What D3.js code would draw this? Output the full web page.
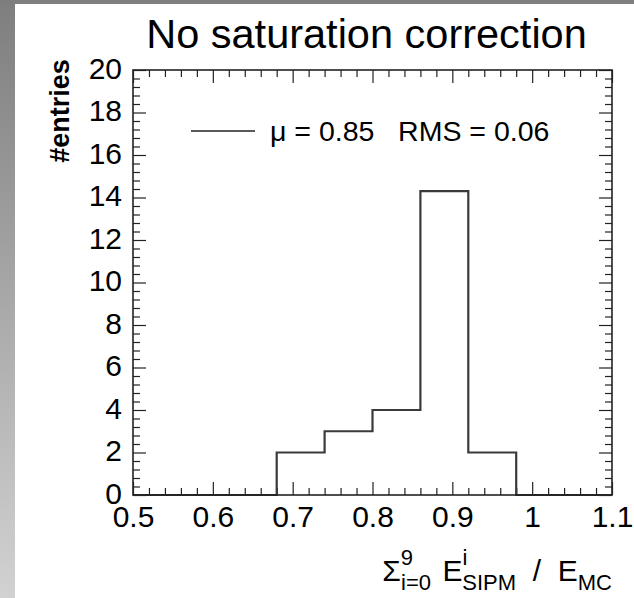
<!DOCTYPE html>
<html><head><meta charset="utf-8">
<script src="https://cdn.jsdelivr.net/npm/d3@7"></script>
<style>html,body{margin:0;padding:0;background:#fff;}svg{display:block;font-family:"Liberation Sans",Arial,sans-serif;}</style>
</head><body>
<script>
// Data
const binEdges = [0.5,0.56,0.62,0.68,0.74,0.80,0.86,0.92,0.98,1.04,1.1];
const counts = [0,0,0,2,3,4,14.3,2,0,0];
const xMajorTicks = [0.5,0.6,0.7,0.8,0.9,1.0,1.1];
const xTickLabels = ["0.5","0.6","0.7","0.8","0.9","1","1.1"];
const yMajorTicks = [0,2,4,6,8,10,12,14,16,18,20];
const titleText = "No saturation correction";
const legendText = "\u03BC = 0.85   RMS = 0.06";

const W = 634, H = 598;
const svg = d3.select("body").append("svg").attr("width", W).attr("height", H);

// background strips
const defs = svg.append("defs");
const grad = defs.append("linearGradient").attr("id","lg").attr("x1",0).attr("y1",0).attr("x2",0).attr("y2",1);
grad.append("stop").attr("offset","0%").attr("stop-color","#7e7e7e");
grad.append("stop").attr("offset","100%").attr("stop-color","#d2d2d2");
svg.append("rect").attr("x",0).attr("y",0).attr("width",W).attr("height",H).attr("fill","#fff");
svg.append("rect").attr("x",0).attr("y",0).attr("width",15).attr("height",H).attr("fill","url(#lg)");
svg.append("rect").attr("x",0).attr("y",0).attr("width",W).attr("height",4).attr("fill","#7e7e7e");

const x = d3.scaleLinear().domain([0.5,1.1]).range([133,612]);
const y = d3.scaleLinear().domain([0,20]).range([495,70]);

const xMinor = d3.range(0,31).map(i => 0.5 + i*0.02).filter(v => Math.abs(Math.round(v*10)-v*10) > 1e-6);
const yMinor = d3.range(0,51).map(i => i*0.4).filter(v => Math.abs(v/2 - Math.round(v/2)) > 1e-6);

const axStyle = g => { g.select(".domain").remove(); g.selectAll("line").attr("stroke","#222").attr("stroke-width",1.2); };

// bottom
svg.append("g").attr("transform",`translate(0,${y(0)})`)
  .call(d3.axisBottom(x).tickValues(xMajorTicks).tickSize(-13).tickPadding(11).tickFormat((d,i)=>xTickLabels[i]))
  .call(axStyle)
  .call(g=>g.selectAll("text").attr("font-size",30).attr("fill","#000").attr("font-family","Liberation Sans, Arial, sans-serif"));
svg.append("g").attr("transform",`translate(0,${y(0)})`)
  .call(d3.axisBottom(x).tickValues(xMinor).tickSize(-7).tickFormat(""))
  .call(axStyle);
// top
svg.append("g").attr("transform",`translate(0,${y(20)})`)
  .call(d3.axisTop(x).tickValues(xMajorTicks).tickSize(-13).tickFormat(""))
  .call(axStyle);
svg.append("g").attr("transform",`translate(0,${y(20)})`)
  .call(d3.axisTop(x).tickValues(xMinor).tickSize(-7).tickFormat(""))
  .call(axStyle);
// left
svg.append("g").attr("transform",`translate(${x(0.5)},0)`)
  .call(d3.axisLeft(y).tickValues(yMajorTicks).tickSize(-13).tickPadding(11))
  .call(axStyle)
  .call(g=>g.selectAll("text").attr("font-size",30).attr("fill","#000").attr("dy","0.28em").attr("font-family","Liberation Sans, Arial, sans-serif"));
svg.append("g").attr("transform",`translate(${x(0.5)},0)`)
  .call(d3.axisLeft(y).tickValues(yMinor).tickSize(-7).tickFormat(""))
  .call(axStyle);
// right
svg.append("g").attr("transform",`translate(${x(1.1)},0)`)
  .call(d3.axisRight(y).tickValues(yMajorTicks).tickSize(-13).tickFormat(""))
  .call(axStyle);
svg.append("g").attr("transform",`translate(${x(1.1)},0)`)
  .call(d3.axisRight(y).tickValues(yMinor).tickSize(-7).tickFormat(""))
  .call(axStyle);

// histogram
const pts = counts.map((c,i)=>[binEdges[i],c]).concat([[binEdges[binEdges.length-1], counts[counts.length-1]]]);
svg.append("path").attr("d", d3.line().x(d=>x(d[0])).y(d=>y(d[1])).curve(d3.curveStepAfter)(pts))
  .attr("fill","none").attr("stroke","#3a3a3a").attr("stroke-width",2.2);

// frame
svg.append("rect").attr("x",x(0.5)).attr("y",y(20)).attr("width",x(1.1)-x(0.5)).attr("height",y(0)-y(20))
  .attr("fill","none").attr("stroke","#222").attr("stroke-width",1.6);

// title
svg.append("text").attr("x",(147+586)/2).attr("y",48).attr("text-anchor","middle").attr("font-size",41.5).attr("fill","#000").text(titleText);

// y title
svg.append("text").attr("transform","translate(69,111) rotate(-90)").attr("text-anchor","middle")
  .attr("font-size",27).attr("font-weight","bold").attr("fill","#000").text("#entries");

// legend
svg.append("line").attr("x1",191).attr("x2",255).attr("y1",131).attr("y2",131).attr("stroke","#222").attr("stroke-width",1.5);
svg.append("text").attr("x",270).attr("y",141).attr("font-size",28.5).attr("fill","#000").attr("xml:space","preserve").style("white-space","pre").text(legendText);

// x title
const xt = svg.append("text").attr("x",612).attr("y",581).attr("text-anchor","end").attr("font-size",30).attr("fill","#000").attr("xml:space","preserve").style("white-space","pre");
xt.append("tspan").text("\u03A3");
xt.append("tspan").attr("font-size",22).attr("dy",-16).text("9");
xt.append("tspan").attr("font-size",22).attr("dx",-12).attr("dy",25).text("i=0");
xt.append("tspan").attr("dy",-9).attr("dx",3).text(" E");
xt.append("tspan").attr("font-size",22).attr("dy",-16).text("i");
xt.append("tspan").attr("font-size",22).attr("dx",-5).attr("dy",25).text("SIPM");
xt.append("tspan").attr("dy",-9).text("  /  E");
xt.append("tspan").attr("font-size",22).attr("dy",9).text("MC");
</script>
</body></html>
